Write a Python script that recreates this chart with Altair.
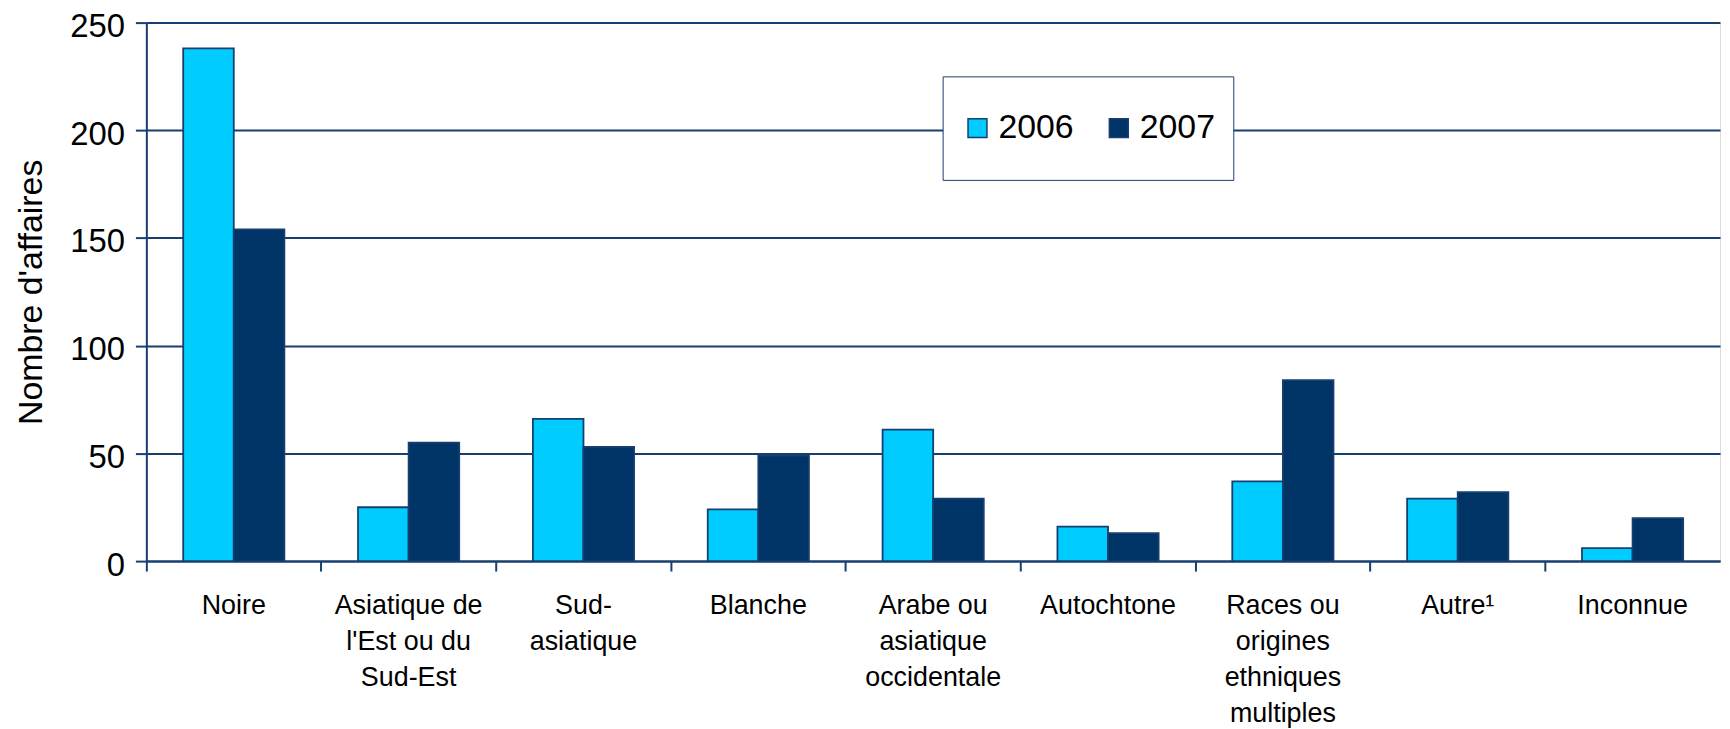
import altair as alt
import pandas as pd

# ---- data ----
categories = [
    "Noire",
    "Asiatique de|l'Est ou du|Sud-Est",
    "Sud-|asiatique",
    "Blanche",
    "Arabe ou|asiatique|occidentale",
    "Autochtone",
    "Races ou|origines|ethniques|multiples",
    "Autre¹",
    "Inconnue",
]
years = ["2006", "2007"]
values_2006 = [238, 25, 66, 24, 61, 16, 37, 29, 6]
values_2007 = [154, 55, 53, 49, 29, 13, 84, 32, 20]
y_ticks = [0, 50, 100, 150, 200, 250]

rows = []
for c, a, b in zip(categories, values_2006, values_2007):
    rows.append({"cat": c, "year": years[0], "n": a})
    rows.append({"cat": c, "year": years[1], "n": b})
df = pd.DataFrame(rows)

NAVY = "#173F6F"
LIGHT = "#00CCFF"
DARK = "#003366"
FONT = "Liberation Sans"
W, H = 1581, 541

chart = (
    alt.Chart(df)
    .mark_bar(stroke=NAVY, strokeWidth=1.8)
    .encode(
        x=alt.X(
            "cat:N",
            sort=categories,
            scale=alt.Scale(paddingInner=0, paddingOuter=0),
            axis=alt.Axis(
                title=None,
                labelAngle=0,
                bandPosition=0,
                tickSize=10,
                tickWidth=2,
                tickColor=NAVY,
                domainColor=NAVY,
                domainWidth=2,
                labelPadding=22,
                labelFontSize=27,
                labelLineHeight=36,
                labelExpr="split(datum.label, '|')",
                labelBaseline="top",
                labelColor="black",
                labelFont=FONT,
                labelLimit=400,
                labelOverlap=False,
                labelBound=False,
            ),
        ),
        xOffset=alt.XOffset(
            "year:N", sort=years, scale=alt.Scale(paddingInner=0, paddingOuter=0.728)
        ),
        y=alt.Y(
            "n:Q",
            scale=alt.Scale(domain=[0, 250], nice=False),
            axis=alt.Axis(
                values=y_ticks,
                title="Nombre d'affaires",
                titleFontSize=34,
                titleFontWeight="normal",
                titleFont=FONT,
                titleColor="black",
                titlePadding=21,
                labelFontSize=33,
                labelFont=FONT,
                labelColor="black",
                labelPadding=11,
                labelOffset=4,
                labelLineHeight=33,
                tickSize=11,
                tickWidth=2,
                tickColor=NAVY,
                domainColor=NAVY,
                domainWidth=2,
                grid=True,
                gridColor=NAVY,
                gridWidth=2,
            ),
        ),
        color=alt.Color(
            "year:N",
            scale=alt.Scale(domain=years, range=[LIGHT, DARK]),
            legend=alt.Legend(
                title=None,
                orient="none",
                legendX=800,
                legendY=54,
                direction="horizontal",
                symbolType="M-1,0.79H1V2.79H-1Z",
                symbolSize=361,
                symbolStrokeColor=NAVY,
                symbolStrokeWidth=1.5,
                labelFontSize=34,
                labelFont=FONT,
                labelColor="black",
                labelOffset=4,
                columnPadding=28,
                padding=18,
                strokeColor=NAVY,
                fillColor="white",
                labelExpr="['', datum.label, '']",
            ),
        ),
    )
    .properties(
        width=W,
        height=H,
        autosize=alt.AutoSizeParams(type="none"),
        padding={"left": 139, "top": 13, "right": 2, "bottom": 167},
    )
    .configure_view(stroke="#8497B0", strokeWidth=1.5)
    .configure(font=FONT, style={"guide-label": {"lineHeight": 17}})
)

chart.save("out.html", embed_options={"renderer": "svg", "actions": False})
